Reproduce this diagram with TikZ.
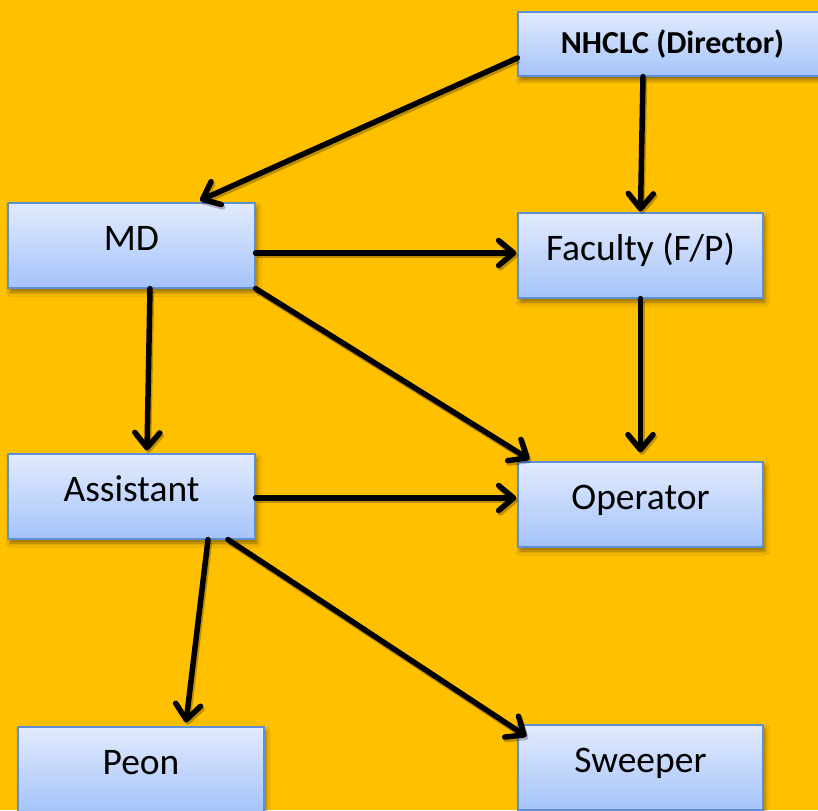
\documentclass[tikz,border=0pt]{standalone}
\usepackage{fontspec}
\setmainfont{Carlito}
\usetikzlibrary{arrows.meta,shadows.blur}
\definecolor{bg}{HTML}{FFC000}
\definecolor{boxtop}{HTML}{E2EBFD}
\definecolor{boxbot}{HTML}{A5C3FA}
\definecolor{boxline}{HTML}{5E8FD2}
\tikzset{
  box/.style={draw=boxline, line width=1.2pt, top color=boxtop, bottom color=boxbot,
    minimum width=247pt, minimum height=85pt, inner sep=0pt,
    font=\fontsize{37.5}{40}\selectfont, text height=24pt, text depth=14pt,
    blur shadow={shadow xshift=2pt, shadow yshift=-4pt, shadow blur radius=4pt, shadow opacity=45}},
  topbox/.style={box, minimum width=309pt, minimum height=64pt,
    font=\fontsize{32}{36}\selectfont\bfseries, text height=22pt, text depth=2pt},
  link/.style={line width=5.5pt, line cap=round, -{Straight Barb[length=15pt,width=25pt,round]},
    preaction={draw=black, opacity=0.25, line width=5.5pt, transform canvas={xshift=1.5pt,yshift=-2.5pt}}}
}
\begin{document}
\begin{tikzpicture}[x=1pt,y=-1pt]
\useasboundingbox (0,0) rectangle (818,810);
\fill[bg] (0,0) rectangle (818,810);
\clip (0,0) rectangle (818,810);
\node[topbox] (nhclc) at (672.5,44) {NHCLC (Director)};
\node[box] (md) at (131.5,245.5) {MD};
\node[box, minimum width=245pt] (fac) at (640.5,255.5) {Faculty (F/P)};
\node[box] (asst) at (131.5,496.5) {Assistant};
\node[box, minimum width=245pt] (oper) at (640.5,504.5) {Operator};
\node[box, minimum width=246pt] (peon) at (141,769.5) {Peon};
\node[box, minimum width=245pt] (sweep) at (640.5,767.5) {Sweeper};

\draw[link] ([yshift=-14pt]nhclc.west) -- ([xshift=68.5pt,yshift=2pt]md.north);
\draw[link] ([xshift=-29.5pt]nhclc.south) -- ([yshift=1pt]fac.north);
\draw[link] ([yshift=-7.5pt]md.east) -- ([yshift=2.5pt,xshift=-1pt]fac.west);
\draw[link] (md.south east) -- ([xshift=12pt,yshift=2pt]oper.north west);
\draw[link] (fac.south) -- ([yshift=9pt]oper.north);
\draw[link] ([xshift=18.5pt]md.south) -- ([xshift=15.5pt,yshift=3pt]asst.north);
\draw[link] ([yshift=-1.5pt]asst.east) -- ([yshift=6.5pt,xshift=-1pt]oper.west);
\draw[link] ([xshift=76.5pt]asst.south) -- ([xshift=45pt,yshift=4pt]peon.north);
\draw[link] ([xshift=96.5pt]asst.south) -- ([xshift=9pt,yshift=-12pt]sweep.north west);
\end{tikzpicture}
\end{document}
